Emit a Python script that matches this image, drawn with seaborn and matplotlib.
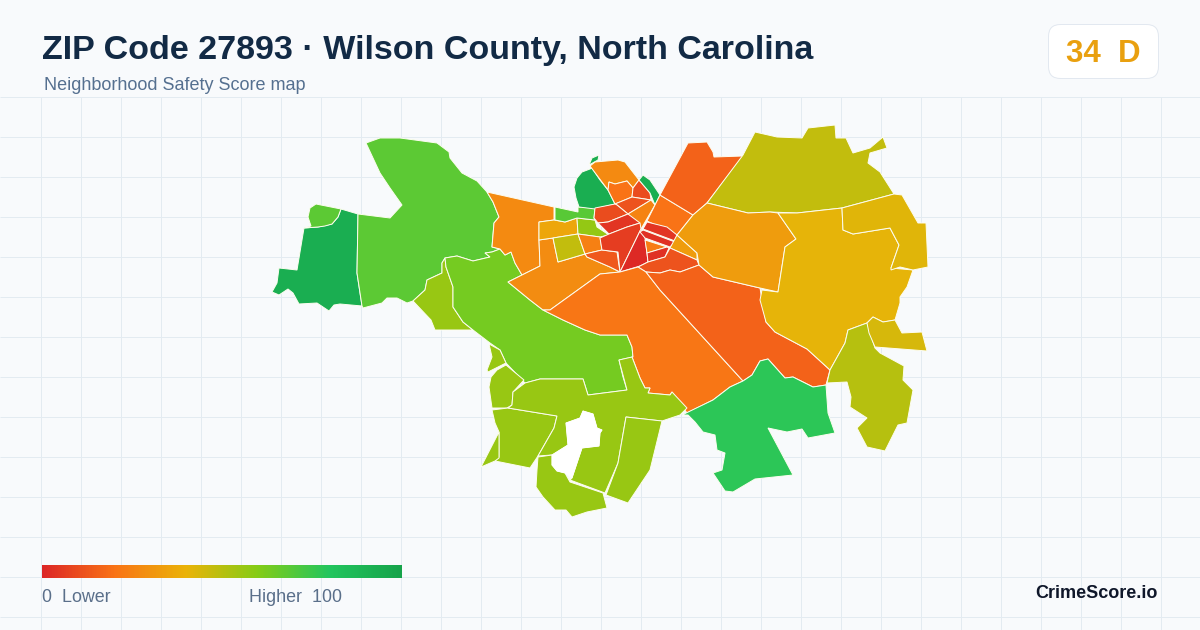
import numpy as np
import matplotlib
matplotlib.use("Agg")
import matplotlib.pyplot as plt
from matplotlib.patches import FancyBboxPatch
import seaborn as sns

sns.set_style("white")
plt.rcParams['font.family'] = ['Liberation Sans', 'DejaVu Sans']

# Score colour ramp
ramp_colors = ["#dc2626", "#f97316", "#eab308", "#84cc16", "#22c55e", "#16a34a"]
score_cmap = sns.blend_palette(ramp_colors, as_cmap=True)

west_block = [(341,209),(358,214),(357,273),(362,306),(340,304),(334,305),(329,311),(317,303),(299,304),(293,293),(288,289),(279,295),(272,292),(277,283),(279,268),(297,270),(304,228),(318,227),(332,224),(338,217)]
west_nub = [(311,226),(308,217),(310,208),(316,204),(341,209),(338,217),(332,224),(325,226),(318,227),(304,228)]
west_large = [(358,214),(390,218),(402,205),(390,188),(380,173),(373,158),(366,143),(380,138),(400,138),(437,143),(449,152),(450,158),(462,173),(477,181),(487,192),(493,202),(499,217),(494,223),(492,247),(500,249),(492,252),(485,253),(490,257),(473,261),(457,256),(445,258),(442,263),(442,273),(427,280),(425,290),(413,301),(407,303),(397,298),(387,298),(382,303),(363,308),(362,306),(357,273)]
west_lower = [(413,301),(425,290),(427,280),(442,273),(442,263),(445,258),(446,267),(453,287),(453,307),(463,322),(473,330),(435,330),(431,320)]
central_west = [(445,258),(457,256),(473,261),(490,257),(485,253),(492,252),(500,249),(505,255),(511,252),(515,263),(522,275),(508,282),(530,300),(543,310),(563,320),(585,330),(600,335),(627,335),(632,347),(633,357),(619,360),(623,377),(627,390),(588,395),(583,379),(540,379),(525,383),(506,363),(500,350),(490,343),(473,330),(463,322),(453,307),(453,287),(446,267)]
northwest = [(487,192),(554,207),(554,220),(539,222),(539,240),(540,266),(522,275),(515,263),(511,252),(505,255),(500,249),(492,247),(494,223),(499,217),(493,202)]
southwest_fan = [(508,282),(522,275),(540,266),(539,240),(553,238),(558,262),(585,254),(587,257),(610,267),(620,272),(600,274),(550,310),(543,310),(530,300)]
inner_a = [(539,222),(554,220),(565,222),(577,218),(578,234),(553,238),(539,240)]
inner_b = [(553,238),(578,234),(585,254),(558,262)]
inner_c = [(577,218),(595,220),(597,227),(609,235),(600,237),(578,234)]
inner_d = [(555,207),(578,212),(578,207),(595,208),(594,218),(595,220),(577,218),(565,222),(555,220)]
inner_e = [(578,234),(600,237),(602,250),(585,254)]
inner_f = [(585,254),(602,250),(617,252),(620,272),(610,267),(587,257)]
north_round = [(590,169),(582,172),(577,178),(574,187),(576,198),(579,207),(595,209),(615,204),(608,190),(600,180),(592,168)]
north_tip = [(589,165),(592,158),(599,155),(598,160)]
north_a = [(590,166),(595,162),(618,160),(625,162),(639,180),(633,188),(627,181),(615,184),(609,182),(608,190)]
north_b = [(609,182),(615,184),(627,181),(633,188),(632,197),(615,204),(608,190)]
north_c = [(639,180),(650,193),(651,200),(632,197),(633,188)]
north_sliver = [(643,175),(650,180),(660,195),(655,205),(650,193),(639,180)]
core_a = [(615,204),(632,197),(651,200),(628,214),(617,205)]
core_b = [(595,208),(615,204),(617,205),(628,214),(608,222),(598,223),(594,218)]
core_c = [(651,200),(655,205),(641,229),(628,214)]
core_d = [(660,195),(693,215),(677,235),(647,221),(655,205)]
core_e = [(598,223),(608,222),(628,214),(640,223),(627,227),(609,234)]
core_f = [(609,234),(627,227),(640,223),(641,229),(620,272),(618,252),(602,250),(600,238)]
core_g = [(641,229),(645,238),(646,245),(648,262),(640,266),(620,272)]
core_h = [(645,240),(667,247),(647,253)]
core_i = [(647,253),(667,247),(669,248),(665,257),(648,262)]
core_j = [(640,232),(643,230),(675,242),(670,247),(645,238)]
core_k = [(647,222),(667,227),(677,235),(675,241),(643,229)]
core_l = [(677,235),(697,253),(697,260),(670,248)]
core_m = [(638,267),(648,262),(665,257),(670,248),(697,260),(699,265),(680,272),(670,270),(660,273),(646,272)]
south_centre = [(600,274),(620,272),(638,267),(646,272),(660,290),(743,381),(730,387),(713,400),(687,413),(672,392),(670,395),(648,393),(650,388),(645,388),(640,378),(632,357),(633,357),(632,347),(627,335),(600,335),(585,330),(563,320),(543,310),(550,310)]
southeast_long = [(646,272),(660,273),(670,270),(680,272),(699,265),(713,277),(760,288),(762,300),(766,322),(775,332),(807,349),(830,370),(826,385),(813,387),(793,377),(785,378),(768,359),(760,361),(752,375),(743,381),(660,290)]
northeast_wedge = [(660,195),(688,143),(707,142),(713,152),(714,157),(743,156),(707,203),(693,215)]
north_east = [(707,203),(743,155),(755,132),(777,137),(802,138),(808,128),(835,125),(836,138),(846,138),(853,153),(870,148),(883,137),(887,148),(870,153),(868,163),(880,172),(894,194),(842,208),(797,213),(770,212),(748,213)]
east_a = [(693,215),(707,203),(748,213),(770,212),(778,213),(796,239),(785,247),(778,292),(760,288),(713,277),(699,265),(697,253),(677,235)]
east_b = [(778,213),(797,213),(842,208),(843,230),(853,234),(890,228),(899,245),(891,268),(913,270),(907,287),(900,297),(900,303),(895,320),(883,322),(873,317),(867,323),(848,330),(845,343),(830,370),(807,349),(775,332),(766,322),(760,300),(762,290),(778,292),(785,247),(796,239)]
east_c = [(842,208),(894,194),(902,195),(918,223),(926,223),(928,267),(913,270),(900,267),(891,270),(891,268),(899,245),(890,228),(853,234),(843,230)]
east_d = [(867,323),(875,348),(880,353),(904,366),(903,380),(913,390),(907,423),(898,425),(885,451),(867,447),(857,428),(867,418),(850,407),(851,397),(847,382),(827,383),(830,370),(845,343),(848,330)]
east_e = [(867,323),(873,317),(883,322),(895,320),(902,333),(922,332),(927,351),(875,347),(869,333)]
south_green = [(682,415),(713,400),(730,387),(743,381),(752,375),(760,361),(768,359),(785,378),(793,377),(813,387),(826,385),(828,413),(835,433),(808,438),(802,429),(787,432),(768,428),(793,475),(755,479),(733,492),(725,491),(713,473),(722,470),(725,453),(717,450),(715,435),(703,432),(695,422),(688,415)]
south_a = [(489,344),(500,350),(506,363),(488,372),(487,370),(492,357)]
south_b = [(506,365),(524,380),(513,392),(512,405),(507,408),(492,408),(489,387),(491,377),(497,370)]
south_c = [(492,410),(508,408),(557,416),(554,428),(538,456),(530,468),(495,461),(499,457),(499,432),(495,423)]
south_d = [(499,432),(499,458),(495,461),(481,467)]
south_e = [(525,383),(540,379),(583,379),(588,395),(627,390),(619,360),(632,357),(640,378),(645,388),(650,388),(648,393),(670,395),(672,392),(687,408),(680,415),(662,421),(626,417),(618,463),(605,493),(570,480),(572,478),(582,448),(599,446),(600,433),(602,430),(597,428),(593,414),(583,411),(580,418),(566,423),(568,445),(552,455),(538,456),(554,428),(557,416),(508,408),(512,405),(513,392)]
south_f = [(538,457),(552,455),(552,465),(557,471),(565,473),(570,482),(603,493),(607,508),(587,512),(572,517),(566,510),(555,510),(543,497),(536,487),(537,470)]
south_g = [(626,417),(662,421),(650,470),(628,503),(606,495),(618,463)]
# Unscored pocket inside the southern tracts
pocket = [(583,411),(593,414),(597,428),(602,430),(600,433),(599,446),(582,448),(572,478),(565,473),(557,471),(552,465),(552,455),(568,445),(566,423),(580,418)]

outlines = [west_block, west_nub, west_large, west_lower, central_west, northwest, southwest_fan,
            inner_a, inner_b, inner_c, inner_d, inner_e, inner_f, north_round, north_tip, north_a, north_b, north_c,
            north_sliver, core_a, core_b, core_c, core_d, core_e, core_f, core_g, core_h, core_i,
            core_j, core_k, core_l, core_m, south_centre, southeast_long, northeast_wedge, north_east,
            east_a, east_b, east_c, east_d, east_e, south_green, south_a, south_b, south_c, south_d,
            south_e, south_f, south_g]
scores = [93, 68, 68, 56, 63, 27, 28,
          36, 48, 57, 69, 24, 13, 93, 93, 27, 20, 10,
          93, 12, 10, 25, 20, 4, 6, 1, 23, 3,
          3, 4, 33, 12, 21, 16, 16, 48,
          33, 41, 42, 50, 44, 78, 56, 56, 56, 56,
          56, 56, 56]

title = "ZIP Code 27893 · Wilson County, North Carolina"
subtitle = "Neighborhood Safety Score map"
overall_score = 34
overall_grade = "D"

fig = plt.figure(figsize=(12, 6.3), dpi=100, facecolor="#f8fafc")
ax = fig.add_axes([0, 0, 1, 1])
ax.set_xlim(0, 1200)
ax.set_ylim(630, 0)
ax.axis("off")

# Background grid starts under the header
ax.vlines(np.arange(40.5, 1200, 40), 96.5, 630, color="#e3ebf1", lw=0.72, zorder=1)
ax.hlines(np.arange(96.5, 630, 40), 0, 1200, color="#e3ebf1", lw=0.72, zorder=1)

for outline, score in zip(outlines, scores):
    xs, ys = zip(*outline)
    ax.fill(xs, ys, facecolor=score_cmap(score / 100), edgecolor="#fdfdf0", lw=0.7, zorder=2)

xs, ys = zip(*pocket)
ax.fill(xs, ys, facecolor="white", edgecolor="white", lw=0.5, zorder=2)

# Header
ax.text(42, 59.5, title, fontsize=24.45, fontweight="bold", color="#122a45", va="baseline", ha="left")
ax.text(44, 90.5, subtitle, fontsize=12.95, color="#557090", va="baseline", ha="left")

# Score badge
badge = FancyBboxPatch((1048.5, 24.5), 110, 54, boxstyle="round,pad=0,rounding_size=12",
                       facecolor="white", edgecolor="#e2e8f0", lw=0.72, zorder=3)
ax.add_patch(badge)
ax.text(1103, 62, f"{overall_score}  {overall_grade}", fontsize=22.5, fontweight="bold",
        color="#e9a00f", va="baseline", ha="center", zorder=4)

# Legend and footer
ax.text(42, 602.5, "0  Lower", fontsize=12.9, color="#5a6f8a", va="baseline", ha="left")
ax.text(342, 602.5, "Higher  100", fontsize=12.9, color="#5a6f8a", va="baseline", ha="right")
ax.text(1158, 598.5, "CrimeScore.io", fontsize=13, fontweight="bold", color="#0f172a", va="baseline", ha="right")

legend_ax = fig.add_axes([42 / 1200, 1 - 578 / 630, 360 / 1200, 13 / 630])
sns.heatmap(np.linspace(0, 100, 360).reshape(1, -1), ax=legend_ax, cmap=score_cmap, vmin=0, vmax=100,
            cbar=False, xticklabels=False, yticklabels=False)

fig.savefig("out.png", dpi=100, facecolor=fig.get_facecolor())
